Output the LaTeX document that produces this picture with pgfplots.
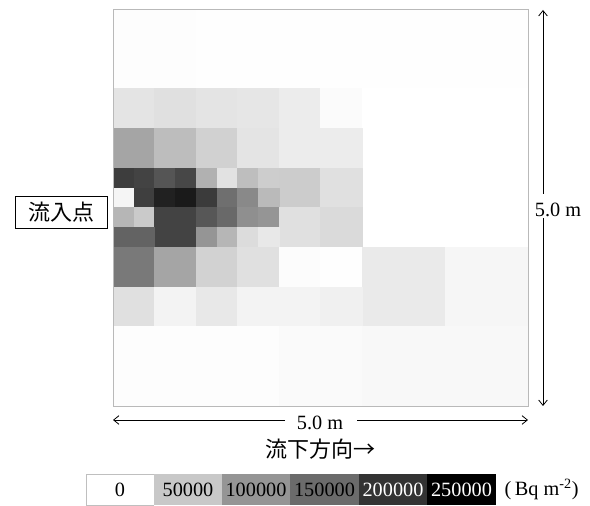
\documentclass[border=0pt]{standalone}
\usepackage{fontspec}
\setmainfont{Liberation Serif}
\newfontfamily\jp{Noto Sans CJK JP}
\usepackage{pgfplots}
\pgfplotsset{compat=1.18}
\usetikzlibrary{arrows.meta}

% legend classes (Bq m-2)
\definecolor{lg0}{gray}{1}
\definecolor{lg1}{gray}{0.785}
\definecolor{lg2}{gray}{0.585}
\definecolor{lg3}{gray}{0.42}
\definecolor{lg4}{gray}{0.2}
\definecolor{lg5}{gray}{0}

\begin{document}
\begin{tikzpicture}
\path (0,0) rectangle (442.5pt,379.5pt);
\begin{axis}[
    at={(84.75pt,75pt)}, anchor=south west,
    scale only axis,
    width=311.25pt, height=297.75pt,
    xmin=0, xmax=5, ymin=0, ymax=5,
    xtick=\empty, ytick=\empty,
    axis line style={gray!55, line width=0.6pt},
    axis on top,
    colormap={bw}{gray(0cm)=(1); gray(1cm)=(0)},
    point meta min=0, point meta max=250000,
]
% one rectangle per mesh cell: x [m], y [m], deposition [Bq m-2]
\addplot[patch, patch type=rectangle, shader=faceted,
         faceted color=mapped color, line width=0.2pt,
         point meta=explicit] coordinates {
% y 4.0-5.0
(0,4)[2000] (1,4)[2000] (1,5)[2000] (0,5)[2000]
(1,4)[1000] (5,4)[1000] (5,5)[1000] (1,5)[1000]
% y 3.5-4.0
(0,3.5)[26500] (0.5,3.5)[26500] (0.5,4)[26500] (0,4)[26500]
(0.5,3.5)[30400] (1,3.5)[30400] (1,4)[30400] (0.5,4)[30400]
(1,3.5)[26500] (1.5,3.5)[26500] (1.5,4)[26500] (1,4)[26500]
(1.5,3.5)[24500] (2,3.5)[24500] (2,4)[24500] (1.5,4)[24500]
(2,3.5)[18600] (2.5,3.5)[18600] (2.5,4)[18600] (2,4)[18600]
(2.5,3.5)[3900] (3,3.5)[3900] (3,4)[3900] (2.5,4)[3900]
(3,2)[0] (5,2)[0] (5,4)[0] (3,4)[0]
% y 3.0-3.5
(0,3)[87200] (0.5,3)[87200] (0.5,3.5)[87200] (0,3.5)[87200]
(0.5,3)[64700] (1,3)[64700] (1,3.5)[64700] (0.5,3.5)[64700]
(1,3)[45100] (1.5,3)[45100] (1.5,3.5)[45100] (1,3.5)[45100]
(1.5,3)[26500] (2,3)[26500] (2,3.5)[26500] (1.5,3.5)[26500]
(2,3)[18600] (2.5,3)[18600] (2.5,3.5)[18600] (2,3.5)[18600]
(2.5,3)[18600] (3,3)[18600] (3,3.5)[18600] (2.5,3.5)[18600]
% y 2.75-3.0
(0,2.75)[189100] (0.25,2.75)[189100] (0.25,3)[189100] (0,3)[189100]
(0.25,2.75)[183300] (0.5,2.75)[183300] (0.5,3)[183300] (0.25,3)[183300]
(0.5,2.75)[165600] (0.75,2.75)[165600] (0.75,3)[165600] (0.5,3)[165600]
(0.75,2.75)[179300] (1,2.75)[179300] (1,3)[179300] (0.75,3)[179300]
(1,2.75)[75500] (1.25,2.75)[75500] (1.25,3)[75500] (1,3)[75500]
(1.25,2.75)[28400] (1.5,2.75)[28400] (1.5,3)[28400] (1.25,3)[28400]
(1.5,2.75)[63700] (1.75,2.75)[63700] (1.75,3)[63700] (1.5,3)[63700]
(1.75,2.75)[49000] (2,2.75)[49000] (2,3)[49000] (1.75,3)[49000]
(2,2.5)[50000] (2.5,2.5)[50000] (2.5,3)[50000] (2,3)[50000]
(2.5,2.5)[30400] (3,2.5)[30400] (3,3)[30400] (2.5,3)[30400]
% y 2.5-2.75
(0,2.5)[9800] (0.25,2.5)[9800] (0.25,2.75)[9800] (0,2.75)[9800]
(0.25,2.5)[187200] (0.5,2.5)[187200] (0.5,2.75)[187200] (0.25,2.75)[187200]
(0.5,2.5)[216600] (0.75,2.5)[216600] (0.75,2.75)[216600] (0.5,2.75)[216600]
(0.75,2.5)[222500] (1,2.5)[222500] (1,2.75)[222500] (0.75,2.75)[222500]
(1,2.5)[191100] (1.25,2.5)[191100] (1.25,2.75)[191100] (1,2.75)[191100]
(1.25,2.5)[140100] (1.5,2.5)[140100] (1.5,2.75)[140100] (1.25,2.75)[140100]
(1.5,2.5)[114700] (1.75,2.5)[114700] (1.75,2.75)[114700] (1.5,2.75)[114700]
(1.75,2.5)[67600] (2,2.5)[67600] (2,2.75)[67600] (1.75,2.75)[67600]
% y 2.25-2.5
(0,2.25)[71500] (0.25,2.25)[71500] (0.25,2.5)[71500] (0,2.5)[71500]
(0.25,2.25)[51900] (0.5,2.25)[51900] (0.5,2.5)[51900] (0.25,2.5)[51900]
(0.5,2)[183300] (1,2)[183300] (1,2.5)[183300] (0.5,2.5)[183300]
(1,2.25)[163700] (1.25,2.25)[163700] (1.25,2.5)[163700] (1,2.5)[163700]
(1.25,2.25)[146000] (1.5,2.25)[146000] (1.5,2.5)[146000] (1.25,2.5)[146000]
(1.5,2.25)[108800] (1.75,2.25)[108800] (1.75,2.5)[108800] (1.5,2.5)[108800]
(1.75,2.25)[102900] (2,2.25)[102900] (2,2.5)[102900] (1.75,2.5)[102900]
(2,2)[30400] (2.5,2)[30400] (2.5,2.5)[30400] (2,2.5)[30400]
(2.5,2)[36300] (3,2)[36300] (3,2.5)[36300] (2.5,2.5)[36300]
% y 2.0-2.25
(0,2)[151900] (0.5,2)[151900] (0.5,2.25)[151900] (0,2.25)[151900]
(1,2)[102900] (1.25,2)[102900] (1.25,2.25)[102900] (1,2.25)[102900]
(1.25,2)[71500] (1.5,2)[71500] (1.5,2.25)[71500] (1.25,2.25)[71500]
(1.5,2)[34300] (1.75,2)[34300] (1.75,2.25)[34300] (1.5,2.25)[34300]
(1.75,2)[22500] (2,2)[22500] (2,2.25)[22500] (1.75,2.25)[22500]
% y 1.5-2.0
(0,1.5)[130300] (0.5,1.5)[130300] (0.5,2)[130300] (0,2)[130300]
(0.5,1.5)[87200] (1,1.5)[87200] (1,2)[87200] (0.5,2)[87200]
(1,1.5)[44100] (1.5,1.5)[44100] (1.5,2)[44100] (1,2)[44100]
(1.5,1.5)[30400] (2,1.5)[30400] (2,2)[30400] (1.5,2)[30400]
(2,1.5)[2900] (2.5,1.5)[2900] (2.5,2)[2900] (2,2)[2900]
(2.5,1.5)[1000] (3,1.5)[1000] (3,2)[1000] (2.5,2)[1000]
(3,1)[20600] (4,1)[20600] (4,2)[20600] (3,2)[20600]
(4,1)[8800] (5,1)[8800] (5,2)[8800] (4,2)[8800]
% y 1.0-1.5
(0,1)[30400] (0.5,1)[30400] (0.5,1.5)[30400] (0,1.5)[30400]
(0.5,1)[11800] (1,1)[11800] (1,1.5)[11800] (0.5,1.5)[11800]
(1,1)[22500] (1.5,1)[22500] (1.5,1.5)[22500] (1,1.5)[22500]
(1.5,1)[11800] (2,1)[11800] (2,1.5)[11800] (1.5,1.5)[11800]
(2,1)[11800] (2.5,1)[11800] (2.5,1.5)[11800] (2,1.5)[11800]
(2.5,1)[14700] (3,1)[14700] (3,1.5)[14700] (2.5,1.5)[14700]
% y 0-1.0
(0,0)[2000] (1,0)[2000] (1,1)[2000] (0,1)[2000]
(1,0)[2000] (2,0)[2000] (2,1)[2000] (1,1)[2000]
(2,0)[4900] (3,0)[4900] (3,1)[4900] (2,1)[4900]
(3,0)[6900] (4,0)[6900] (4,1)[6900] (3,1)[6900]
(4,0)[6900] (5,0)[6900] (5,1)[6900] (4,1)[6900]
};
\end{axis}

\begin{scope}[x=0.75pt, y=0.75pt, font=\fontsize{15.2}{18}\selectfont,
              dim/.style={line width=0.6pt, -{Straight Barb[length=4pt,width=6.5pt]}}]
% inflow point
\draw[line width=0.7pt] (15,278) rectangle (107,310);
\node[font=\jp\fontsize{16.5}{18}\selectfont] at (61,294) {流入点};
% vertical dimension
\draw[dim] (543,312) -- (543,496);
\draw[dim] (543,288) -- (543,100);
\node at (558,296) {5.0 m};
% horizontal dimension
\draw[dim] (285,86) -- (113,86);
\draw[dim] (357,86) -- (528,86);
\node at (320,83) {5.0 m};
\node[font=\jp\fontsize{16.5}{18}\selectfont] at (320,57) {流下方向→};
% legend
\fill[lg1] (154,1) rectangle (222,32);
\fill[lg2] (222,1) rectangle (290,32);
\fill[lg3] (290,1) rectangle (359,32);
\fill[lg4] (359,1) rectangle (427,32);
\fill[lg5] (427,1) rectangle (496,32);
\draw[gray!50, line width=0.6pt] (154,1) -- (86,1) -- (86,32) -- (154,32);
\node at (120,16.5) {0};
\node at (188,16.5) {50000};
\node at (256,16.5) {100000};
\node at (324.5,16.5) {150000};
\node[white] at (393,16.5) {200000};
\node[white] at (461.5,16.5) {250000};
\node[anchor=west] at (500,16.5) {(\,Bq m\textsuperscript{-2})};
\end{scope}
\end{tikzpicture}
\end{document}
